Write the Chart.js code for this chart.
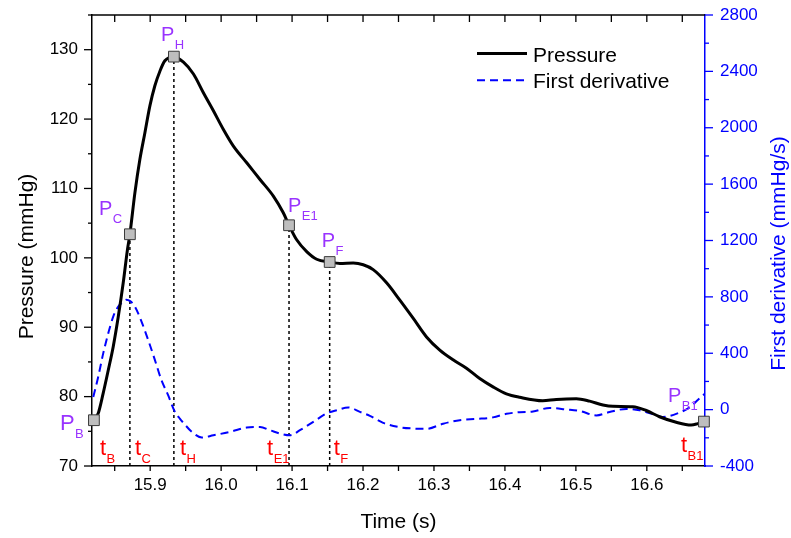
<!DOCTYPE html>
<html lang="en">
<head>
<meta charset="UTF-8">
<title>Pressure and first derivative</title>
<script src="https://cdn.jsdelivr.net/npm/chart.js"></script>
<style>
  body { margin: 0; background: #fff; }
  #wrap { width: 791px; height: 538px; }
</style>
</head>
<body>
<div id="wrap"><canvas id="pressureChart" width="791" height="538"></canvas></div>
<script>
// --- data ---
const pressureTime = [15.8207, 15.8268, 15.8338, 15.8409, 15.8479, 15.8550, 15.8620, 15.8680, 15.8714, 15.8785,
  15.8855, 15.8925, 15.8996, 15.9066, 15.9137, 15.9207, 15.9334, 15.9469, 15.9610, 15.9750,
  15.9891, 16.0032, 16.0173, 16.0361, 16.0548, 16.0736, 16.0876, 16.0957, 16.1065, 16.1206,
  16.1347, 16.1530, 16.1675, 16.1862, 16.2003, 16.2143, 16.2332, 16.2519, 16.2706, 16.2895,
  16.3082, 16.3269, 16.3458, 16.3645, 16.3832, 16.4021, 16.4208, 16.4532, 16.4725, 16.5006,
  16.5194, 16.5381, 16.5522, 16.5803, 16.5992, 16.6179, 16.6414, 16.6625, 16.6718, 16.6805];
const pressureValue = [76.6, 77.6, 80.5, 83.8, 87.2, 91.5, 96.4, 101.2, 103.4, 109.4,
  114.2, 118.0, 121.9, 124.8, 126.9, 128.4, 129.0, 128.2, 126.5, 123.8,
  121.2, 118.5, 116.1, 113.7, 111.3, 108.9, 106.5, 104.7, 102.6, 100.9,
  99.8, 99.4, 99.2, 99.25, 99.0, 98.3, 96.4, 93.9, 91.3, 88.6,
  86.7, 85.3, 84.1, 82.6, 81.4, 80.4, 79.9, 79.4, 79.6, 79.7,
  79.35, 78.8, 78.6, 78.55, 78.0, 77.1, 76.3, 75.9, 76.1, 76.4];

const derivTime = [15.8198, 15.8268, 15.8338, 15.8409, 15.8479, 15.8550, 15.8620, 15.8662, 15.8718, 15.8785,
  15.8878, 15.8972, 15.9066, 15.9159, 15.9253, 15.9338, 15.9418, 15.9479, 15.9587, 15.9728,
  15.9891, 16.0126, 16.0361, 16.0548, 16.0689, 16.0830, 16.0971, 16.1111, 16.1299, 16.1487,
  16.1628, 16.1791, 16.1956, 16.2097, 16.2284, 16.2519, 16.2706, 16.2895, 16.3129, 16.3364,
  16.3599, 16.3832, 16.4021, 16.4208, 16.4396, 16.4631, 16.4866, 16.5053, 16.5288, 16.5475,
  16.5710, 16.5898, 16.6085, 16.6226, 16.6432, 16.6615, 16.6718, 16.6812];
const derivValue = [90, 233, 399, 541, 660, 731, 766, 780, 770, 731,
  624, 494, 353, 209, 103, -5, -64, -100, -158, -198,
  -182, -158, -127, -123, -146, -170, -182, -146, -87, -27,
  -4, 15, -16, -44, -94, -125, -134, -136, -100, -75,
  -66, -55, -30, -18, -13, 12, 1, -10, -41, -17,
  5, -5, -32, -52, -27, 20, 68, 110];

// characteristic points P_B ... P_B1
const markerName = ['B', 'C', 'H', 'E1', 'F', 'B1'];
const markerTime = [15.8207, 15.8714, 15.9334, 16.0957, 16.1530, 16.6805];
const markerPressure = [76.6, 103.4, 129.0, 104.7, 99.4, 76.4];

const timeRange = [15.818, 16.682];
const pressureRange = [70, 135];
const derivRange = [-400, 2800];

const FONT = "'Liberation Sans', Arial, sans-serif";
const PURPLE = '#9933ff';
const RED = '#ff0000';
const BLUE = '#0000ff';

function pairs(xs, ys) {
  return xs.map((v, i) => ({ x: v, y: ys[i] }));
}

// dotted drop lines from the inner markers down to the time axis
const guidePoints = [];
markerTime.forEach((t, i) => {
  if (i === 0 || i === markerTime.length - 1) return;
  guidePoints.push({ x: t, y: pressureRange[0] }, { x: t, y: markerPressure[i] }, { x: t, y: null });
});

// label placement (pixels, relative to marker)
const pOffset = { B: [-34, 10, 22], C: [-31, -19, 20], H: [-13, -16, 20], E1: [-1, -13, 20], F: [-8, -15, 20], B1: [-36, -20, 20] };
const tOffset = { B: [6, -11], C: [5, -11], H: [6, -11], E1: [-22, -11], F: [4, -11], B1: [-23, -14] };

function drawSub(ctx, main, sub, x, y, size, color) {
  ctx.fillStyle = color;
  ctx.textAlign = 'left';
  ctx.textBaseline = 'alphabetic';
  ctx.font = size + 'px ' + FONT;
  ctx.fillText(main, x, y);
  const w = ctx.measureText(main).width;
  ctx.font = '13px ' + FONT;
  ctx.fillText(sub, x + w + 0.5, y + 8);
}

const decorations = {
  id: 'decorations',
  afterDraw(chart) {
    const { ctx, chartArea: a, scales } = chart;
    const xs = scales.x, ys = scales.y, y1 = scales.y1;
    ctx.save();

    // top frame line
    ctx.strokeStyle = '#000';
    ctx.lineWidth = 1.5;
    ctx.beginPath();
    ctx.moveTo(a.left, a.top);
    ctx.lineTo(a.right, a.top);
    ctx.stroke();

    // tick marks
    ctx.lineWidth = 1.3;
    xs.ticks.forEach(t => {
      const px = xs.getPixelForValue(t.value);
      ctx.beginPath();
      ctx.moveTo(px, a.bottom); ctx.lineTo(px, a.bottom + 5);
      ctx.moveTo(px, a.top); ctx.lineTo(px, a.top + 7);
      ctx.stroke();
    });
    ys.ticks.forEach(t => {
      const py = ys.getPixelForValue(t.value);
      const len = Math.round(t.value) % 10 === 0 ? 8 : 4;
      ctx.beginPath();
      ctx.moveTo(a.left - len, py); ctx.lineTo(a.left, py);
      ctx.stroke();
    });
    ctx.strokeStyle = BLUE;
    y1.ticks.forEach(t => {
      const py = y1.getPixelForValue(t.value);
      const len = Math.round(t.value) % 400 === 0 ? 8 : 4;
      ctx.beginPath();
      ctx.moveTo(a.right, py); ctx.lineTo(a.right + len, py);
      ctx.stroke();
    });

    // axis titles
    ctx.textAlign = 'center';
    ctx.textBaseline = 'alphabetic';
    ctx.font = '21px ' + FONT;
    ctx.fillStyle = '#000';
    ctx.fillText('Time (s)', (a.left + a.right) / 2, a.bottom + 62);
    ctx.save();
    ctx.translate(a.left - 59, (a.top + a.bottom) / 2 + 16);
    ctx.rotate(-Math.PI / 2);
    ctx.fillText('Pressure (mmHg)', 0, 0);
    ctx.restore();
    ctx.save();
    ctx.fillStyle = BLUE;
    ctx.translate(a.right + 80, (a.top + a.bottom) / 2 + 13);
    ctx.rotate(-Math.PI / 2);
    ctx.fillText('First derivative (mmHg/s)', 0, 0);
    ctx.restore();

    // point labels P_x and time labels t_x
    markerName.forEach((name, i) => {
      const px = xs.getPixelForValue(markerTime[i]);
      const py = ys.getPixelForValue(markerPressure[i]);
      const po = pOffset[name];
      drawSub(ctx, 'P', name, px + po[0], py + po[1], po[2], PURPLE);
      const to = tOffset[name];
      drawSub(ctx, 't', name, px + to[0], a.bottom + to[1], 22, RED);
    });

    // legend
    const lx = a.left + 385;
    const rows = [chart.data.datasets[0], chart.data.datasets[1]];
    rows.forEach((ds, i) => {
      const ly = a.top + 38.5 + i * 26.7;
      ctx.strokeStyle = ds.borderColor;
      ctx.lineWidth = ds.borderWidth;
      ctx.setLineDash(ds.borderDash || []);
      ctx.beginPath();
      ctx.moveTo(lx, ly); ctx.lineTo(lx + 50, ly);
      ctx.stroke();
      ctx.setLineDash([]);
      ctx.fillStyle = '#000';
      ctx.font = '21px ' + FONT;
      ctx.textAlign = 'left';
      ctx.fillText(ds.label, lx + 56, ly + 8);
    });
    ctx.restore();
  }
};

const tickFont = { family: FONT, size: 17 };

// keep the plot frame where the figure has it: drop the label overhang padding
function noOverhang(s) {
  s.paddingTop = 0;
  s.paddingBottom = 0;
}

new Chart(document.getElementById('pressureChart'), {
  type: 'line',
  data: {
    datasets: [
      {
        label: 'Pressure',
        data: pairs(pressureTime, pressureValue),
        yAxisID: 'y',
        borderColor: '#000',
        borderWidth: 3,
        pointRadius: 0,
        cubicInterpolationMode: 'monotone',
        order: 2
      },
      {
        label: 'First derivative',
        data: pairs(derivTime, derivValue),
        yAxisID: 'y1',
        borderColor: BLUE,
        borderWidth: 2,
        borderDash: [8, 5],
        pointRadius: 0,
        cubicInterpolationMode: 'monotone',
        order: 3
      },
      {
        label: 'guides',
        data: guidePoints,
        yAxisID: 'y',
        borderColor: '#000',
        borderWidth: 1.5,
        borderDash: [3, 3],
        pointRadius: 0,
        spanGaps: false,
        tension: 0,
        order: 4
      },
      {
        label: 'markers',
        data: pairs(markerTime, markerPressure),
        yAxisID: 'y',
        showLine: false,
        pointStyle: 'rect',
        pointRadius: 7.6,
        backgroundColor: '#bebebe',
        borderColor: '#3a3a3a',
        borderWidth: 1,
        clip: false,
        order: 1
      }
    ]
  },
  options: {
    responsive: false,
    animation: false,
    devicePixelRatio: 1,
    layout: { padding: { top: 15, left: 0, right: 0, bottom: 0 } },
    plugins: { legend: { display: false }, tooltip: { enabled: false } },
    scales: {
      x: {
        type: 'linear',
        position: 'bottom',
        min: timeRange[0],
        max: timeRange[1],
        afterFit: s => { s.height = 72; },
        grid: { display: false, drawTicks: false },
        border: { display: true, color: '#000', width: 1.5 },
        ticks: {
          stepSize: 0.05,
          includeBounds: false,
          autoSkip: false,
          maxRotation: 0,
          padding: 9,
          color: '#000',
          font: tickFont,
          callback: v => Math.round(v * 100) % 10 === 0 ? v.toFixed(1) : ''
        }
      },
      y: {
        type: 'linear',
        position: 'left',
        min: pressureRange[0],
        max: pressureRange[1],
        afterFit: s => { s.width = 92; noOverhang(s); },
        grid: { display: false, drawTicks: false },
        border: { display: true, color: '#000', width: 1.5 },
        ticks: {
          stepSize: 5,
          padding: 14,
          color: '#000',
          font: tickFont,
          callback: v => Math.round(v) % 10 === 0 ? String(v) : ''
        }
      },
      y1: {
        type: 'linear',
        position: 'right',
        min: derivRange[0],
        max: derivRange[1],
        afterFit: s => { s.width = 86; noOverhang(s); },
        grid: { display: false, drawTicks: false },
        border: { display: true, color: BLUE, width: 1.5 },
        ticks: {
          stepSize: 200,
          padding: 15,
          color: BLUE,
          font: tickFont,
          callback: v => Math.round(v) % 400 === 0 ? String(v) : ''
        }
      }
    }
  },
  plugins: [decorations]
});
</script>
</body>
</html>
